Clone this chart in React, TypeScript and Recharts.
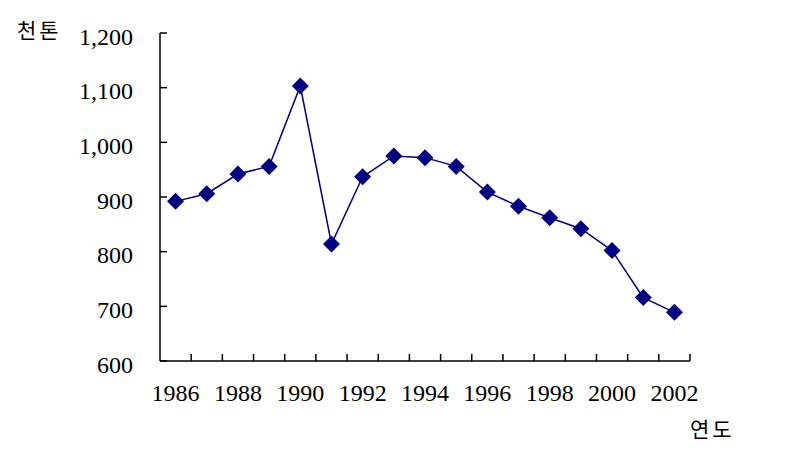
import { LineChart, Line, XAxis, YAxis } from 'recharts';

// 연도별 생산량 (천톤)
const years = [1986, 1987, 1988, 1989, 1990, 1991, 1992, 1993, 1994, 1995, 1996, 1997, 1998, 1999, 2000, 2001, 2002];
const tonnes = [892, 906, 942, 956, 1103, 814, 937, 975, 972, 956, 909, 883, 862, 842, 802, 716, 689];
const yTicks = [600, 700, 800, 900, 1000, 1100, 1200];
const yearLabels = [1986, 1988, 1990, 1992, 1994, 1996, 1998, 2000, 2002];

const data = years.map((year, i) => ({ year, tonnes: tonnes[i] }));
// tick marks sit between the years, labels on every second year
const boundaryTicks = years.map((y) => y + 0.5);
const xTicks = [...yearLabels, ...boundaryTicks].sort((a, b) => a - b);

const NAVY = '#000080';
const SERIF = "'Liberation Serif', 'Times New Roman', 'DejaVu Serif', serif";
const HANGUL = "'Noto Sans CJK KR', sans-serif";
const X_MARGIN = 23;
const labelStyle = { fontFamily: SERIF, fontSize: 24 };

function Diamond({ cx, cy }: any) {
  if (cx == null || cy == null) return null;
  const r = 8.5;
  return (
    <polygon
      points={`${cx},${cy - r} ${cx + r},${cy} ${cx},${cy + r} ${cx - r},${cy}`}
      fill={NAVY}
    />
  );
}

function XTick({ x, y, payload }: any) {
  const v = payload.value as number;
  if (Number.isInteger(v)) {
    return (
      <text x={x} y={y} dy="0.71em" textAnchor="middle" fill="#000" style={labelStyle}>
        {v}
      </text>
    );
  }
  const axisY = y - X_MARGIN;
  return <line x1={x} x2={x} y1={axisY} y2={axisY - 7} stroke="#000" strokeWidth={1.5} />;
}

function YTick({ x, y, payload }: any) {
  return (
    <text x={x} y={y + 3} dy="0.355em" textAnchor="end" fill="#000" style={labelStyle}>
      {(payload.value as number).toLocaleString('en-US')}
    </text>
  );
}

export default function App() {
  return (
    <div style={{ position: 'absolute', left: 0, top: 0, width: 805, height: 454, background: '#fff' }}>
      <LineChart width={805} height={454} data={data} margin={{ top: 33, right: 115, left: 100, bottom: 63 }}>
        <XAxis
          dataKey="year"
          type="number"
          domain={[1985.5, 2002.5]}
          ticks={xTicks}
          interval={0}
          tickLine={false}
          tickSize={0}
          tickMargin={X_MARGIN}
          tick={<XTick />}
          axisLine={{ stroke: '#000', strokeWidth: 1.5 }}
          height={30}
        />
        <YAxis
          domain={[600, 1200]}
          ticks={yTicks}
          interval={0}
          width={60}
          tickSize={-7}
          tickMargin={34}
          tick={<YTick />}
          tickLine={{ stroke: '#000', strokeWidth: 1.5 }}
          axisLine={{ stroke: '#000', strokeWidth: 1.5 }}
        />
        <Line
          type="linear"
          dataKey="tonnes"
          stroke={NAVY}
          strokeWidth={1.5}
          dot={<Diamond />}
          activeDot={false}
          isAnimationActive={false}
        />
      </LineChart>
      <div style={{ position: 'absolute', left: 17, top: 19, fontSize: 21, lineHeight: '21px', letterSpacing: 3, fontFamily: HANGUL, color: '#000' }}>
        천톤
      </div>
      <div style={{ position: 'absolute', left: 690, top: 418, fontSize: 21, lineHeight: '21px', letterSpacing: 3, fontFamily: HANGUL, color: '#000' }}>
        연도
      </div>
    </div>
  );
}
